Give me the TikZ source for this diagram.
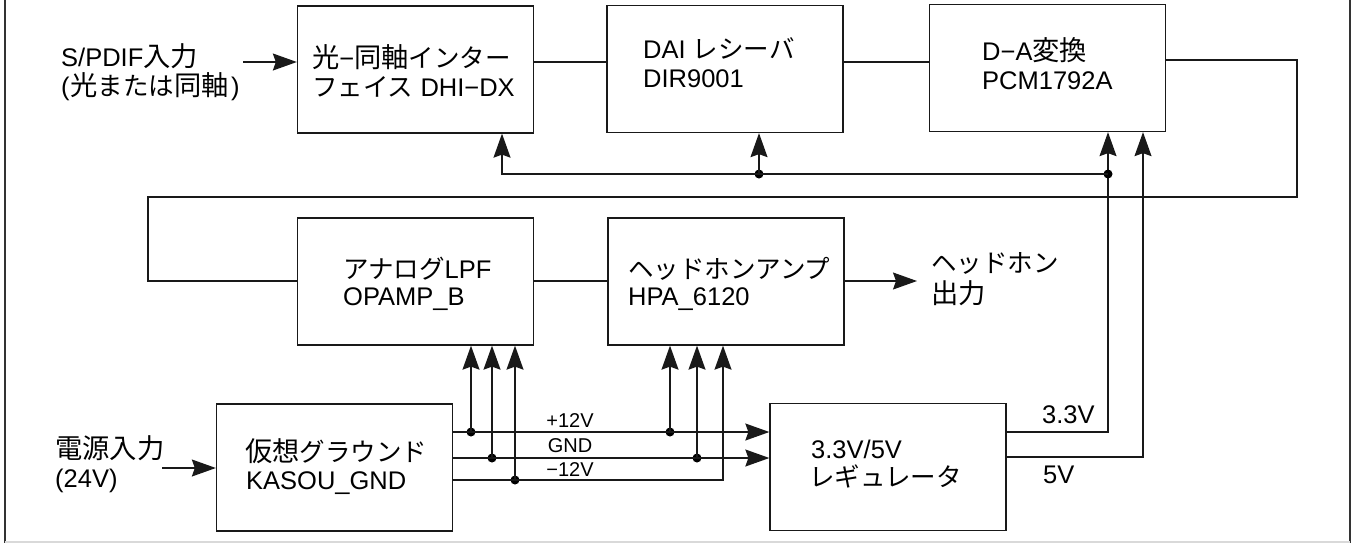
\documentclass[tikz,border=0pt]{standalone}
\usepackage{fontspec}
\setmainfont{Liberation Sans}
\newfontfamily\jp{Noto Sans CJK JP}
\newfontfamily\jk[Scale=1.07]{Noto Sans CJK JP}
\usetikzlibrary{arrows.meta}
\begin{document}
\begin{tikzpicture}[x=1pt,y=-1pt,
  blk/.style={draw=black!90,line width=1.3pt,minimum width=236pt,minimum height=127pt,inner sep=0pt},
  wire/.style={line width=1.3pt,draw=black!90},
  arr/.style={wire,-{Stealth[length=24pt,width=17pt,inset=3pt]}},
  txt/.style={anchor=base west,inner sep=0pt,font=\fontsize{25.5}{28}\selectfont},
  lbl/.style={anchor=base,inner sep=0pt,font=\fontsize{20}{22}\selectfont},
  dot/.style={circle,fill=black,inner sep=0pt,minimum size=9pt}]
\useasboundingbox (0,0) rectangle (1354,544);
% frame
\draw[line width=2.5pt,black!80] (5,0) -- (5,543);
\draw[line width=2.5pt,black!80] (1350,0) -- (1350,543);
\draw[line width=1.5pt,black!15] (5,542) -- (1350,542);
% boxes
\node[blk] (b1) at (415.5,69.5) {};
\node[blk] (b2) at (725,69) {};
\node[blk] (b3) at (1047.5,68) {};
\node[blk] (b4) at (415.5,281.5) {};
\node[blk] (b5) at (726,281.5) {};
\node[blk] (b6) at (334.5,467.5) {};
\node[blk] (b7) at (888,467) {};
% box texts
\node[txt] (t1a) at (312,67) {{\jk 光}−{\jk 同軸}{\jp インター}};
\node[txt] (t1b) at (312,96) {{\jp フェイス} DHI−DX};
\node[txt] (t2a) at (643,58) {DAI {\jp レシーバ}};
\node[txt] (t2b) at (643,87) {DIR9001};
\node[txt] (t3a) at (982,60) {D−A{\jk 変換}};
\node[txt] (t3b) at (982,89) {PCM1792A};
\node[txt] (t4a) at (343,278) {{\jp アナログ}LPF};
\node[txt] (t4b) at (343,305) {OPAMP\_B};
\node[txt] (t5a) at (628,278) {{\jp ヘッドホンアンプ}};
\node[txt] (t5b) at (628,305) {HPA\_6120};
\node[txt] (t6a) at (245,461) {{\jk 仮想}{\jp グラウンド}};
\node[txt] (t6b) at (246,489) {KASOU\_GND};
\node[txt] (t7a) at (811,458) {3.3V/5V};
\node[txt] (t7b) at (809,486) {{\jp レギュレータ}};
% outside texts
\node[txt] (s1) at (61,66) {S/PDIF{\jk 入力}};
\node[txt] (s2) at (61,95) {(\kern1pt{\jk 光}{\jp または}{\jk 同軸}\kern2pt)};
\node[txt] (p1) at (55,458) {{\jk 電源入力}};
\node[txt] (p2) at (55,487) {(24V)};
\node[txt] (h1) at (931,272) {{\jp ヘッドホン}};
\node[txt] (h2) at (931,303) {{\jk 出力}};
\node[txt] (v1) at (1042,423) {3.3V};
\node[txt] (v2) at (1043,483) {5V};
\node[lbl] (l12p) at (570,427) {+12V};
\node[lbl] (lgnd) at (570,452) {GND};
\node[lbl] (l12m) at (570,476) {−12V};
% signal chain
\coordinate (spin) at (243,62);
\draw[arr] (spin) -- (spin -| b1.west);
\draw[wire] (b1.east |- spin) -- (b2.west |- spin);
\draw[wire] (b2.east |- spin) -- (b3.west |- spin);
\coordinate (r1) at (1297,60);
\coordinate (r2) at (1297,197);
\coordinate (q1) at (148,197);
\coordinate (q2) at (148,281);
\draw[wire] (b3.east |- r1) -- (r1) -- (r2) -- (q1) -- (q2) -- (q2 -| b4.west);
\draw[wire] (b4.east |- q2) -- (b5.west |- q2);
\coordinate (hpo) at (917,281);
\draw[arr] (b5.east |- hpo) -- (hpo);
% power
\coordinate (pin) at (162,468);
\draw[arr] (pin) -- (pin -| b6.west);
\node[dot] (d1) at (471,432) {};
\node[dot] (d2) at (492,458) {};
\node[dot] (d3) at (515,480) {};
\node[dot] (d4) at (670,432) {};
\node[dot] (d5) at (697,458) {};
\coordinate (m12) at (723,480);
\draw[arr] (b6.east |- d1) -- (b7.west |- d1);
\draw[arr] (b6.east |- d2) -- (b7.west |- d2);
\draw[arr] (b6.east |- d3) -- (m12) -- (m12 |- b5.south);
\draw[arr] (d1.center) -- (d1.center |- b4.south);
\draw[arr] (d2.center) -- (d2.center |- b4.south);
\draw[arr] (d3.center) -- (d3.center |- b4.south);
\draw[arr] (d4.center) -- (d4.center |- b5.south);
\draw[arr] (d5.center) -- (d5.center |- b5.south);
% regulator outputs
\coordinate (v33) at (1108,432);
\coordinate (v5) at (1143,457);
\draw[arr] (b7.east |- v33) -- (v33) -- (v33 |- b3.south);
\draw[arr] (b7.east |- v5) -- (v5) -- (v5 |- b3.south);
\node[dot] (d6) at (1108,174) {};
\node[dot] (d7) at (759,174) {};
\coordinate (tb) at (502,174);
\draw[arr] (d6.center) -- (tb) -- (tb |- b1.south);
\draw[arr] (d7.center) -- (d7.center |- b2.south);
\end{tikzpicture}
\end{document}
